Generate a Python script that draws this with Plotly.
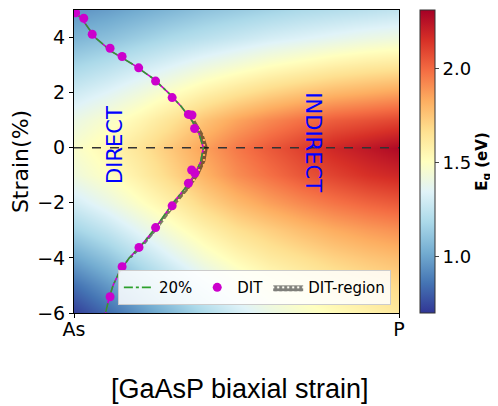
import plotly.graph_objects as go

# ---------------- data ----------------
comp_grid = [0.0, 0.1, 0.2, 0.3, 0.4, 0.5, 0.6, 0.7, 0.8, 0.9, 1.0]
strain_grid = [-6, -5, -4, -3, -2, -1, 0, 1, 2, 3, 4, 5]
eg_rows = [
    [0.72, 0.83, 0.95, 1.07, 1.19, 1.30, 1.39, 1.46, 1.52, 1.57, 1.62],  # -6
    [0.85, 0.96, 1.08, 1.20, 1.32, 1.42, 1.50, 1.56, 1.61, 1.65, 1.69],  # -5
    [1.00, 1.10, 1.22, 1.34, 1.45, 1.54, 1.61, 1.66, 1.71, 1.75, 1.78],  # -4
    [1.16, 1.25, 1.36, 1.47, 1.57, 1.66, 1.72, 1.78, 1.83, 1.87, 1.90],  # -3
    [1.30, 1.39, 1.49, 1.59, 1.70, 1.79, 1.86, 1.92, 1.97, 2.01, 2.04],  # -2
    [1.42, 1.50, 1.59, 1.70, 1.81, 1.91, 1.98, 2.05, 2.10, 2.15, 2.18],  # -1
    [1.47, 1.55, 1.64, 1.75, 1.86, 1.96, 2.04, 2.11, 2.18, 2.23, 2.28],  # 0
    [1.40, 1.47, 1.55, 1.65, 1.76, 1.85, 1.92, 1.98, 2.03, 2.06, 2.09],  # 1
    [1.29, 1.35, 1.42, 1.50, 1.58, 1.65, 1.71, 1.76, 1.80, 1.83, 1.86],  # 2
    [1.17, 1.22, 1.28, 1.34, 1.40, 1.45, 1.50, 1.54, 1.58, 1.61, 1.63],  # 3
    [1.05, 1.09, 1.14, 1.19, 1.23, 1.27, 1.31, 1.34, 1.37, 1.40, 1.42],  # 4
    [0.95, 0.98, 1.02, 1.06, 1.10, 1.13, 1.16, 1.19, 1.21, 1.23, 1.25],  # 5
]

# 20% boundary curve (composition vs strain)
curve_strain = [5, 4.5, 4, 3.5, 3, 2.5, 2, 1.5, 1, 0.5, 0, -0.5, -1, -1.5, -2,
                -2.5, -3, -3.5, -4, -4.5, -5, -5.5, -6]
curve_comp = [0.0, 0.035, 0.065, 0.115, 0.185, 0.245, 0.29, 0.33, 0.362, 0.385,
              0.398, 0.39, 0.37, 0.34, 0.305, 0.275, 0.245, 0.21, 0.17, 0.14,
              0.12, 0.107, 0.097]

# DIT points
dit_comp = [0.005, 0.03, 0.056, 0.111, 0.148, 0.199, 0.251, 0.302, 0.352, 0.363,
            0.371, 0.362, 0.372, 0.352, 0.302, 0.251, 0.2, 0.148, 0.111]
dit_strain = [4.9, 4.7, 4.12, 3.61, 3.31, 2.9, 2.42, 1.82, 1.21, 1.19,
              0.7, -0.81, -0.93, -1.29, -2.11, -2.9, -3.62, -4.32, -5.41]
dit_err = [0.08] * len(dit_comp)

# DIT-region band
region_strain = [1.0, 0.5, 0.0, -0.5, -1.0, -1.5, -2.0, -2.5, -3.0, -3.5, -4.0]
region_lo = [0.362, 0.385, 0.398, 0.39, 0.37, 0.34, 0.305, 0.275, 0.245, 0.21, 0.17]
region_hi = [0.373, 0.398, 0.412, 0.404, 0.384, 0.354, 0.318, 0.287, 0.255, 0.219, 0.177]

x_ticks = [0, 1]
x_labels = ["As", "P"]
y_ticks = [-6, -4, -2, 0, 2, 4]
y_labels = ["\u22126", "\u22124", "\u22122", "0", "2", "4"]
cb_ticks = [1.0, 1.5, 2.0]

# ---------------- style ----------------
rdylbu_r = ["#313695", "#4575b4", "#74add1", "#abd9e9", "#e0f3f8", "#ffffbf",
            "#fee090", "#fdae61", "#f46d43", "#d73027", "#a50026"]
cscale = [[i / (len(rdylbu_r) - 1), c] for i, c in enumerate(rdylbu_r)]
TICKFONT = dict(family="DejaVu Sans", size=19, color="black")

fig = go.Figure()

fig.add_trace(go.Heatmap(
    x=comp_grid, y=strain_grid, z=eg_rows, zsmooth="best",
    colorscale=cscale, zmin=0.70, zmax=2.31, showscale=True, hoverinfo="skip",
    colorbar=dict(
        x=1.0646, xanchor="left", y=0.5, yanchor="middle", len=1.0, lenmode="fraction",
        xpad=0, ypad=0,
        thickness=15, outlinewidth=1, outlinecolor="#333",
        tickvals=cb_ticks, ticktext=["1.0", "1.5", "2.0"], ticks="outside", ticklen=4,
        tickfont=dict(family="DejaVu Sans", size=18, color="black"),
        title=dict(text="<b>E<sub>g</sub> (eV)</b>", side="right",
                   font=dict(family="DejaVu Sans", size=15, color="black")),
    ),
))

# zero strain dashed line
fig.add_trace(go.Scatter(
    x=[comp_grid[0], comp_grid[-1]], y=[0, 0], mode="lines",
    line=dict(color="#333333", width=1.3, dash="dash"), showlegend=False, hoverinfo="skip"))

# DIT-region
fig.add_trace(go.Scatter(
    x=region_lo + region_hi[::-1], y=region_strain + region_strain[::-1],
    mode="lines", fill="toself", fillcolor="rgba(0,0,0,0)",
    fillpattern=dict(shape="+", fgcolor="black", bgcolor="rgba(0,0,0,0)", size=5, solidity=0.8),
    line=dict(color="rgba(0,0,0,0)", width=0), name="DIT-region", legendrank=3))

# magenta guide line
fig.add_trace(go.Scatter(
    x=curve_comp, y=curve_strain, mode="lines",
    line=dict(color="#cc00cc", width=1.6), showlegend=False, hoverinfo="skip"))

# 20% line
fig.add_trace(go.Scatter(
    x=curve_comp, y=curve_strain, mode="lines",
    line=dict(color="#2ca02c", width=1.6, dash="dashdot"), name="20%", legendrank=1))

# DIT points
fig.add_trace(go.Scatter(
    x=dit_comp, y=dit_strain, mode="markers",
    marker=dict(color="#cc00cc", size=9),
    error_y=dict(type="data", array=dit_err, color="#cc00cc", thickness=1, width=2),
    name="DIT", legendrank=2))

fig.add_annotation(x=0.126, y=0.1, xref="x", yref="y", text="DIRECT", textangle=-90,
                   showarrow=False, font=dict(family="DejaVu Sans", size=21, color="blue"))
fig.add_annotation(x=0.735, y=0.2, xref="x", yref="y", text="INDIRECT", textangle=90,
                   showarrow=False, font=dict(family="DejaVu Sans", size=21, color="blue"))
fig.add_annotation(x=0.511, y=-0.252, xref="paper", yref="paper",
                   text="[GaAsP biaxial strain]", showarrow=False,
                   xanchor="center", yanchor="middle",
                   font=dict(family="Liberation Sans", size=27, color="black"))

# page body has an 8px margin: figure drawn at (8, 8)
fig.update_layout(
    width=490, height=398,
    margin=dict(l=66, r=99, t=2, b=93, autoexpand=False),
    paper_bgcolor="white", plot_bgcolor="white",
    xaxis=dict(range=[0, 1], tickvals=x_ticks, ticktext=x_labels, ticks="outside",
               ticklen=4, tickcolor="black", tickfont=TICKFONT, showline=True,
               mirror=True, linecolor="black", linewidth=1, showgrid=False, zeroline=False,
               automargin=False, ticklabelstandoff=-5),
    yaxis=dict(range=[-6, 5], tickvals=y_ticks, ticktext=y_labels, ticks="outside",
               ticklen=4, tickcolor="black", tickfont=TICKFONT, showline=True,
               mirror=True, linecolor="black", linewidth=1, showgrid=False, zeroline=False,
               automargin=False,
               title=dict(text="Strain(%)", font=dict(family="DejaVu Sans", size=22, color="black"),
                          standoff=7)),
    legend=dict(orientation="h", x=0.975, y=0.026, xanchor="right", yanchor="bottom",
                bgcolor="rgba(255,255,255,0.85)", bordercolor="#cccccc", borderwidth=1,
                font=dict(family="DejaVu Sans", size=15, color="black"),
                itemwidth=30, tracegroupgap=0),
    showlegend=True,
)

fig.write_html("out.html")
